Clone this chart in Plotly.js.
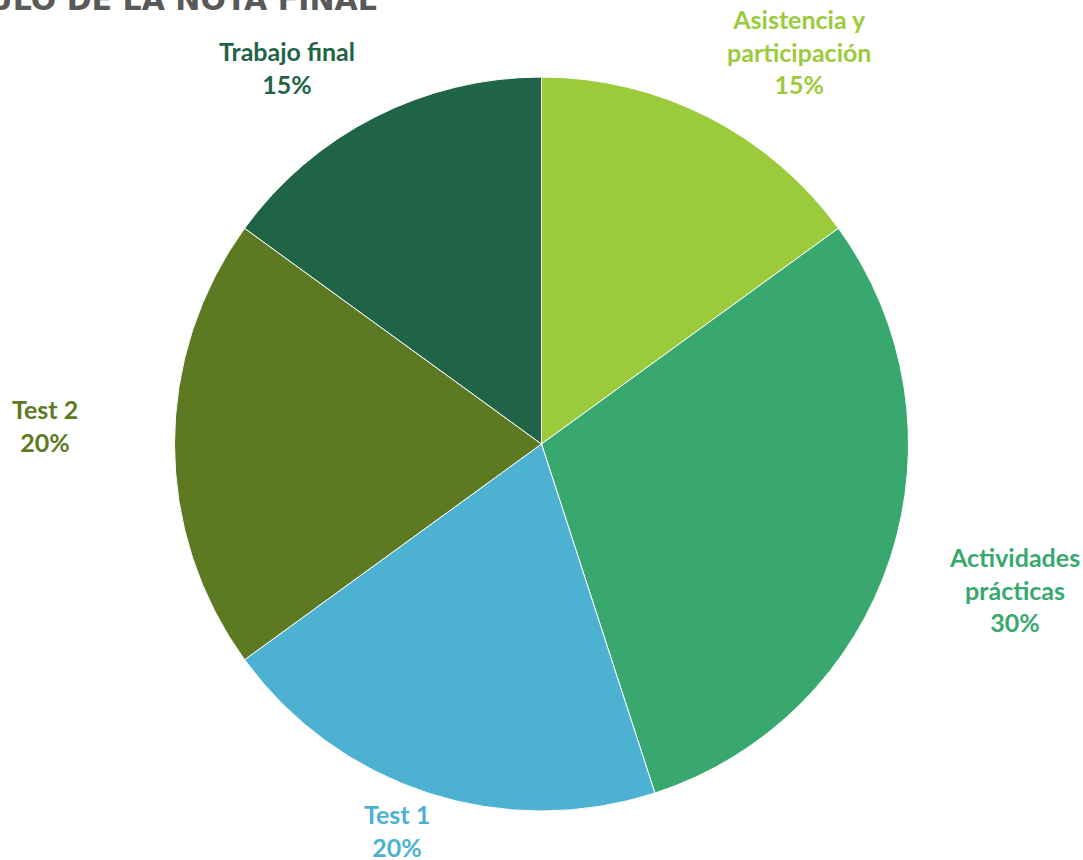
<!DOCTYPE html>
<html>
<head>
<meta charset="utf-8">
<script src="https://cdn.plot.ly/plotly-3.0.1.min.js"></script>
<style>html,body{margin:0;padding:0;background:#fff;overflow:hidden}#chart{width:1083px;height:860px}</style>
</head>
<body>
<div id="chart"></div>
<script>
const categories = ["Asistencia y participación", "Actividades prácticas", "Test 1", "Test 2", "Trabajo final"];
const displayLabels = ["Asistencia y<br>participación", "Actividades<br>prácticas", "Test 1", "Test 2", "Trabajo final"];
const values = [15, 30, 20, 20, 15];
const titleText = "CÁLCULO DE LA NOTA FINAL";

const colors = ["#9BCB3B", "#38A86E", "#4DB2D1", "#5D7A22", "#1F6447"];
// label centre positions in pixels (layout only)
const labelPx = [[799, 51], [1014, 589], [397, 830], [45, 425], [287, 68]];

const W = 1083, H = 860;
const total = values.reduce((a, b) => a + b, 0);

const annotations = categories.map((c, i) => ({
  xref: "paper", yref: "paper",
  x: labelPx[i][0] / W, y: 1 - labelPx[i][1] / H,
  xanchor: "center", yanchor: "middle",
  text: "<b>" + displayLabels[i] + "<br>" + Math.round(values[i] / total * 100) + "%</b>",
  showarrow: false,
  font: {family: "Lato, 'Open Sans', sans-serif", size: 25, color: colors[i]},
  align: "center"
}));
annotations.push({
  xref: "paper", yref: "paper",
  x: 379 / W, y: 1 + 1 / H,
  xanchor: "right", yanchor: "middle",
  text: "<b>" + titleText + "</b>",
  showarrow: false,
  font: {family: "'DejaVu Sans', sans-serif", size: 30, color: "#595959"}
});

const cx = 541.5, cy = 444, r = 367;
const trace = {
  type: "pie",
  labels: categories,
  values: values,
  sort: false,
  direction: "clockwise",
  rotation: 0,
  textinfo: "none",
  hoverinfo: "label+percent",
  marker: {colors: colors, line: {color: "#ffffff", width: 1}},
  domain: {x: [(cx - r) / W, (cx + r) / W], y: [1 - (cy + r) / H, 1 - (cy - r) / H]},
  showlegend: false
};

Plotly.newPlot("chart", [trace], {
  width: W, height: H,
  margin: {l: 0, r: 0, t: 0, b: 0},
  paper_bgcolor: "#ffffff",
  showlegend: false,
  annotations: annotations
}, {displayModeBar: false, staticPlot: true});
</script>
</body>
</html>
